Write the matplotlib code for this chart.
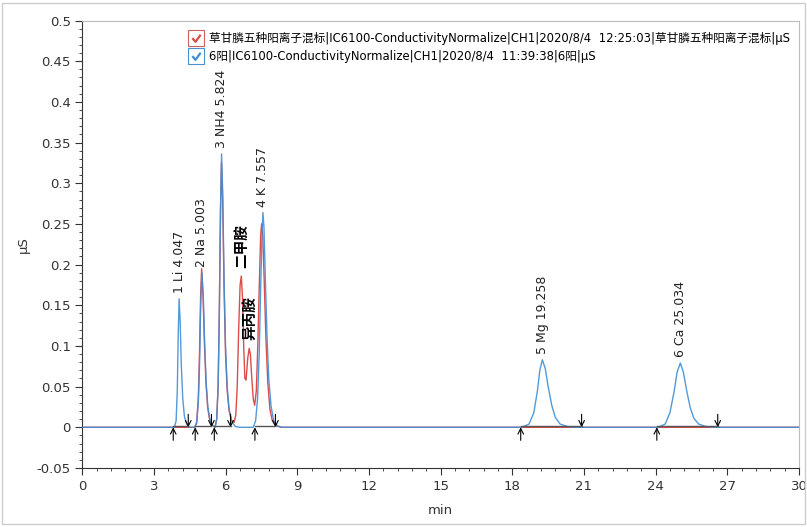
import numpy as np
import matplotlib.pyplot as plt
from matplotlib.lines import Line2D
from matplotlib.legend_handler import HandlerTuple
from matplotlib.patches import Rectangle
from matplotlib.path import Path

# blue trace: 6阳 (time in min, signal in uS)
blue_t = [0, 3.85, 3.92, 3.97, 4.01, 4.047, 4.09, 4.14, 4.2, 4.27, 4.36, 4.5,
          4.7, 4.78, 4.85, 4.9, 4.95, 5.003, 5.06, 5.12, 5.18, 5.25, 5.33, 5.45, 5.55,
          5.62, 5.68, 5.73, 5.78, 5.824, 5.87, 5.93, 5.99, 6.06, 6.14, 6.25, 6.4, 6.6,
          7.15, 7.25, 7.33, 7.4, 7.46, 7.52, 7.557, 7.6, 7.66, 7.73, 7.8, 7.9, 8.0, 8.15, 8.35,
          18.4, 18.7, 18.9, 19.05, 19.15, 19.258, 19.38, 19.5, 19.65, 19.8, 20.0, 20.3, 20.6,
          24.1, 24.4, 24.6, 24.78, 24.9, 25.034, 25.16, 25.3, 25.45, 25.6, 25.8, 26.1, 26.5, 30]
blue_y = [0, 0, 0.008, 0.045, 0.115, 0.158, 0.13, 0.075, 0.035, 0.013, 0.004, 0,
          0, 0.005, 0.03, 0.075, 0.15, 0.19, 0.16, 0.1, 0.055, 0.025, 0.01, 0.002, 0,
          0.01, 0.05, 0.14, 0.27, 0.336, 0.29, 0.18, 0.1, 0.05, 0.022, 0.007, 0.001, 0,
          0, 0.008, 0.035, 0.09, 0.17, 0.24, 0.264, 0.245, 0.18, 0.11, 0.06, 0.025, 0.009, 0.002, 0,
          0, 0.004, 0.018, 0.045, 0.07, 0.083, 0.072, 0.05, 0.027, 0.012, 0.004, 0.001, 0,
          0, 0.004, 0.018, 0.045, 0.068, 0.079, 0.068, 0.045, 0.024, 0.011, 0.004, 0.001, 0, 0]

# red trace: 草甘膦五种阳离子混标
red_t = [0, 4.7, 4.78, 4.85, 4.9, 4.95, 4.99, 5.05, 5.11, 5.17, 5.24, 5.32, 5.45, 5.55,
         5.62, 5.68, 5.73, 5.78, 5.82, 5.87, 5.93, 5.99, 6.06, 6.14, 6.25, 6.35,
         6.42, 6.48, 6.54, 6.6, 6.65, 6.7, 6.75, 6.8, 6.85, 6.92, 6.98, 7.03, 7.09, 7.15, 7.21,
         7.28, 7.34, 7.4, 7.46, 7.5, 7.55, 7.61, 7.68, 7.76, 7.85, 7.95, 8.1, 8.3, 30]
red_y = [0, 0, 0.006, 0.035, 0.09, 0.165, 0.195, 0.16, 0.1, 0.055, 0.025, 0.01, 0.002, 0,
         0.01, 0.05, 0.14, 0.265, 0.325, 0.28, 0.17, 0.09, 0.045, 0.02, 0.008, 0.006,
         0.015, 0.05, 0.12, 0.175, 0.186, 0.16, 0.1, 0.06, 0.058, 0.085, 0.097, 0.09, 0.06, 0.035, 0.027,
         0.045, 0.1, 0.17, 0.235, 0.25, 0.235, 0.18, 0.11, 0.055, 0.022, 0.008, 0.002, 0, 0]

# peak labels
peak_names = ['1 Li 4.047', '2 Na 5.003', '3 NH4 5.824', '4 K 7.557', '5 Mg 19.258', '6 Ca 25.034']
peak_t = [4.047, 5.003, 5.824, 7.557, 19.258, 25.034]
peak_h = [0.158, 0.19, 0.336, 0.264, 0.083, 0.079]

amine_names = ['二甲胺', '异丙胺']
amine_t = [6.65, 6.98]
amine_h = [0.186, 0.097]

# integration start / end
start_t = [3.8, 4.72, 5.52, 7.22, 18.35, 24.05]
end_t = [4.43, 5.4, 6.2, 8.08, 20.9, 26.6]

blue = '#3f8fd6'
red = '#de4b4b'

fig = plt.figure(figsize=(8.07, 5.27), dpi=100)
ax = fig.add_axes([0.1022, 0.112, 0.8878, 0.849])

ax.plot(red_t, red_y, color=red, lw=1.0, zorder=2)
ax.plot(blue_t, blue_y, color=blue, lw=1.0, alpha=0.9, zorder=3)
for s, e in zip(start_t, end_t):
    ax.plot([s, e], [0.0018, 0.0018], color='#555555', lw=1.0, zorder=4)

for s in start_t:
    ax.annotate('', xy=(s, 0.0), xytext=(s, -0.016),
                arrowprops=dict(arrowstyle='->', color='black', lw=0.8, shrinkA=0, shrinkB=0))
for e in end_t:
    ax.annotate('', xy=(e, 0.0), xytext=(e, 0.016),
                arrowprops=dict(arrowstyle='->', color='black', lw=0.8, shrinkA=0, shrinkB=0))

for name, t, h in zip(peak_names, peak_t, peak_h):
    ax.annotate(name, xy=(t, h), xytext=(0, 4), textcoords='offset points',
                rotation=90, ha='center', va='bottom', fontsize=9, color='#222222')
for name, t, h in zip(amine_names, amine_t, amine_h):
    ax.annotate(name, xy=(t, h), xytext=(0, 6), textcoords='offset points',
                rotation=90, ha='center', va='bottom', fontsize=10.5, fontweight='bold',
                family=['Noto Sans CJK SC'], color='black')

ax.set_xlim(0, 30)
ax.set_ylim(-0.05, 0.5)
ax.set_xticks(np.arange(0, 31, 3))
ax.set_xticks(np.arange(0, 30.01, 0.6), minor=True)
ax.set_yticks(np.arange(-0.05, 0.501, 0.05))
ax.set_yticks(np.arange(-0.05, 0.501, 0.01), minor=True)
ax.set_yticklabels(['-0.05', '0', '0.05', '0.1', '0.15', '0.2', '0.25', '0.3', '0.35', '0.4', '0.45', '0.5'])
ax.tick_params(axis='both', which='major', direction='out', length=5, labelsize=9.5,
               labelcolor='#333333', color='#333333')
ax.tick_params(axis='both', which='minor', direction='out', length=2.5, color='#333333')
ax.spines['left'].set_color('#333333')
ax.spines['bottom'].set_color('#333333')
ax.spines['top'].set_color('#bbbbbb')
ax.spines['right'].set_color('#bbbbbb')

ax.set_xlabel('min', fontsize=9.5, color='#333333', labelpad=8)
ax.set_ylabel('μS', fontsize=9.5, color='#333333')
ax.yaxis.set_label_coords(-0.074, 0.5)

check = Path([(-0.5, 0.05), (-0.12, -0.4), (0.5, 0.45)], [Path.MOVETO, Path.LINETO, Path.LINETO])
h_red = (Line2D([], [], marker='s', ms=11, mfc='white', mec='#d06060', mew=0.8, ls=''),
         Line2D([], [], marker=check, ms=6, mfc='none', mec=red, mew=1.6, ls=''))
h_blue = (Line2D([], [], marker='s', ms=11, mfc='white', mec='#4a90d0', mew=0.8, ls=''),
          Line2D([], [], marker=check, ms=6, mfc='none', mec=blue, mew=1.6, ls=''))
ax.legend([h_red, h_blue],
          ['草甘膦五种阳离子混标|IC6100-ConductivityNormalize|CH1|2020/8/4  12:25:03|草甘膦五种阳离子混标|μS',
           '6阳|IC6100-ConductivityNormalize|CH1|2020/8/4  11:39:38|6阳|μS'],
          handler_map={tuple: HandlerTuple(ndivide=1, pad=0)},
          loc='upper right', bbox_to_anchor=(1.0, 0.995), frameon=False,
          prop={'family': ['DejaVu Sans', 'Noto Sans CJK SC'], 'size': 8.4},
          handlelength=1.0, handletextpad=0.6, labelspacing=0.45, borderaxespad=0.4)

fig.patches.append(Rectangle((0.002, 0.005), 0.996, 0.99, transform=fig.transFigure,
                             fill=False, edgecolor='#cccccc', lw=1.0))

fig.savefig('out.png', dpi=100)
